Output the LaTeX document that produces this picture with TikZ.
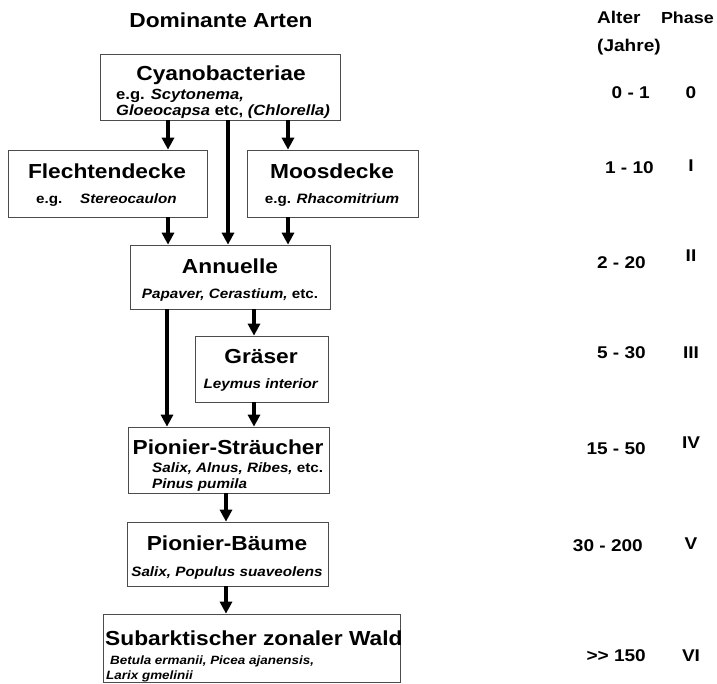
\documentclass[tikz,border=0pt]{standalone}
\usepackage{fontspec}
\setmainfont[FakeStretch=1.12]{Liberation Sans}
\usetikzlibrary{arrows.meta}
\begin{document}
\begin{tikzpicture}[x=1pt,y=-1pt,
  box/.style={draw=black!70,line width=0.7pt,inner sep=0pt},
  ttl/.style={font=\fontsize{20.3}{24}\selectfont\bfseries,inner sep=0pt,anchor=base},
  sub/.style={font=\fontsize{13.6}{16}\selectfont\bfseries,inner sep=0pt,anchor=base},
  big/.style={font=\fontsize{14.8}{17}\selectfont\bfseries,inner sep=0pt,anchor=base west},
  small/.style={font=\fontsize{12}{14}\selectfont\bfseries,inner sep=0pt,anchor=base west},
  col/.style={font=\fontsize{17}{20}\selectfont\bfseries,inner sep=0pt,anchor=base},
  arr/.style={line width=3.6pt,-{Triangle[width=12pt,length=12pt]}}]
\path[use as bounding box,fill=white] (0,0) rectangle (717,683);

% headers
\node[ttl] (hdr) at (221,27) {Dominante Arten};
\node[col,anchor=base west] (alter) at (597,23) {Alter};
\node[col,anchor=base west] (jahre) at (597,51) {(Jahre)};
\node[col,anchor=base east,font=\fontsize{16}{20}\selectfont\bfseries] (phase) at (714,23) {Phase};

% boxes
\node[box,minimum width=240pt,minimum height=66pt] (cyano) at (220,87) {};
\node[box,minimum width=199pt,minimum height=67pt] (flech) at (107.5,183.5) {};
\node[box,minimum width=171pt,minimum height=67pt] (moos) at (332.5,183.5) {};
\node[box,minimum width=200pt,minimum height=64pt] (annu) at (230,277) {};
\node[box,minimum width=133pt,minimum height=66pt] (gras) at (261.5,369) {};
\node[box,minimum width=201pt,minimum height=66pt] (pstr) at (228.5,460) {};
\node[box,minimum width=201pt,minimum height=64pt] (pbau) at (227.5,554) {};
\node[box,minimum width=297pt,minimum height=68pt] (wald) at (251.5,648) {};

% box texts
\node[ttl] (t1) at (221,80) {Cyanobacteriae};
\node[big] (s1a) at (116,99) {e.g. \textit{Scytonema,}};
\node[big] (s1b) at (116,115) {\textit{Gloeocapsa} etc, \textit{(Chlorella)}};
\node[ttl] (t2) at (107,178) {Flechtendecke};
\node[sub,anchor=base west] (s2a) at (36,203) {e.g.};
\node[sub,anchor=base west] (s2b) at (80,203) {\textit{Stereocaulon}};
\node[ttl] (t3) at (332,178) {Moosdecke};
\node[sub] (s3) at (332,203) {e.g. \textit{Rhacomitrium}};
\node[ttl] (t4) at (230,273) {Annuelle};
\node[sub] (s4) at (230,298) {\textit{Papaver, Cerastium,} etc.};
\node[ttl] (t5) at (261,363) {Gräser};
\node[sub] (s5) at (261,388) {\textit{Leymus interior}};
\node[ttl] (t6) at (228,454) {Pionier-Sträucher};
\node[sub,anchor=base west] (s6a) at (152,472) {\textit{Salix, Alnus, Ribes,} etc.};
\node[sub,anchor=base west] (s6b) at (152,488) {\textit{Pinus pumila}};
\node[ttl] (t7) at (227,550) {Pionier-Bäume};
\node[sub] (s7) at (227,576) {\textit{Salix, Populus suaveolens}};
\node[ttl,anchor=base west] (t8) at (105,645) {Subarktischer zonaler Wald};
\node[small] (s8a) at (110,664) {\textit{Betula ermanii, Picea ajanensis,}};
\node[small] (s8b) at (106,679) {\textit{Larix gmelinii}};

% age column
\foreach \n/\t/\x/\y in {a0/0 - 1/650/98,a1/1 - 10/654/173,a2/2 - 20/646/268,a3/5 - 30/646/358,a4/15 - 50/646/454,a5/30 - 200/643/551,a6/>{}> 150/646/661}
  \node[col,anchor=base east] (\n) at (\x,\y) {\t};
% phase column
\foreach \n/\t/\y in {p0/0/98,p1/I/171,p2/II/261,p3/III/358,p4/IV/448,p5/V/549,p6/VI/661}
  \node[col] (\n) at (691,\y) {\t};

% arrow columns
\coordinate (xl) at (168,0);
\coordinate (xm) at (228,0);
\coordinate (xr) at (288,0);
\coordinate (xg) at (254,0);
\coordinate (xa) at (167,0);
\coordinate (xc) at (226,0);

% connectors
\draw[arr] (cyano.south -| xl) -- (flech.north -| xl);
\draw[arr] (cyano.south -| xm) -- (annu.north -| xm);
\draw[arr] (cyano.south -| xr) -- (moos.north -| xr);
\draw[arr] (flech.south -| xl) -- (annu.north -| xl);
\draw[arr] (moos.south -| xr) -- (annu.north -| xr);
\draw[arr] (annu.south -| xg) -- (gras.north -| xg);
\draw[arr] (annu.south -| xa) -- (pstr.north -| xa);
\draw[arr] (gras.south -| xg) -- (pstr.north -| xg);
\draw[arr] (pstr.south -| xc) -- (pbau.north -| xc);
\draw[arr] (pbau.south -| xc) -- (wald.north -| xc);
\end{tikzpicture}
\end{document}
